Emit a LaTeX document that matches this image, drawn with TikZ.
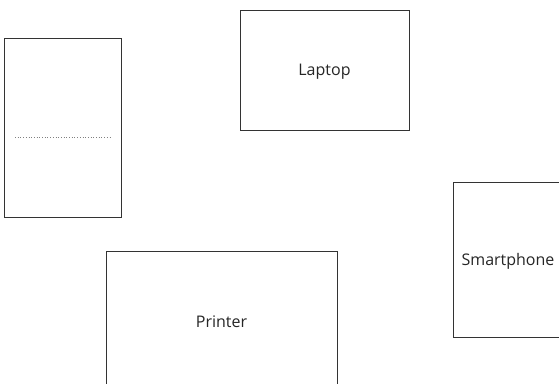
\documentclass[tikz,border=0pt]{standalone}
\usepackage{fontspec}
\setmainfont{Open Sans}
\definecolor{frame}{HTML}{333333}

\begin{document}
\begin{tikzpicture}[x=1pt,y=-1pt,font=\fontsize{16}{19}\selectfont]
\tikzset{device/.style={draw=frame,line width=0.8pt,inner sep=0pt,fill=white,text=black!85,text depth=0pt}}
\useasboundingbox (0,0) rectangle (559,383);
\clip (0,0) rectangle (559,383);
\node[device,minimum width=117pt,minimum height=179pt] (tablet) at (63,127.5) {};
\draw[gray,dotted,line width=0.7pt] ([xshift=-48pt,yshift=-10pt]tablet.center) -- ([xshift=49pt,yshift=-10pt]tablet.center);
\node[device,minimum width=169pt,minimum height=120pt] (laptop) at (324.5,70) {Laptop};
\node[device,minimum width=110pt,minimum height=155pt] (phone) at (508,259.5) {Smartphone};
\node[device,minimum width=231pt,minimum height=142pt] (printer) at (221.5,322) {Printer};
\end{tikzpicture}
\end{document}
